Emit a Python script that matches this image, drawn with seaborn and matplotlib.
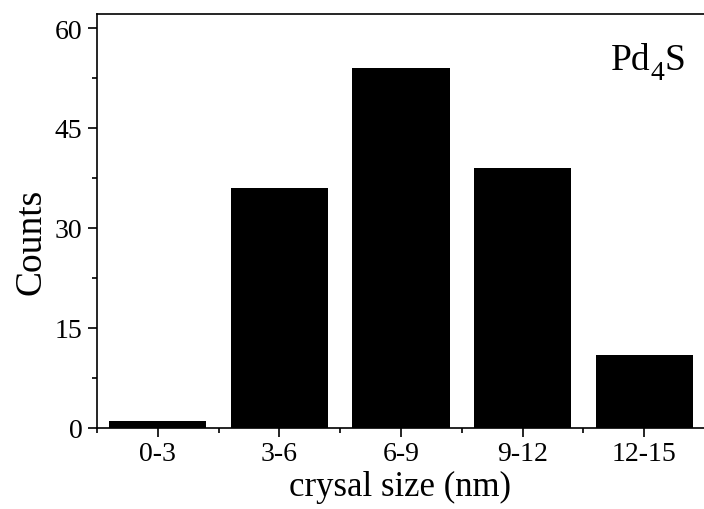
import matplotlib
matplotlib.use("Agg")
import matplotlib.pyplot as plt
import seaborn as sns
import pandas as pd
from matplotlib.ticker import MultipleLocator, FixedLocator
from matplotlib.transforms import offset_copy

categories = ["0-3", "3-6", "6-9", "9-12", "12-15"]
counts = [1, 36, 54, 39, 11]
y_ticks = [0, 15, 30, 45, 60]

sns.set_theme(style="ticks")
plt.rcParams["font.family"] = ["Liberation Serif", "DejaVu Serif"]
for k in ["text.color", "axes.labelcolor", "xtick.color", "ytick.color", "axes.edgecolor"]:
    plt.rcParams[k] = "black"

df = pd.DataFrame({"size": categories, "count": counts})

fig = plt.figure(figsize=(7.04, 5.10), dpi=100)
ax = fig.add_axes([97/704, 1 - 429/510, (705 - 97)/704, (429 - 15)/510])

sns.barplot(data=df, x="size", y="count", color="black", saturation=1,
            width=0.8, ax=ax, edgecolor="none")

ax.set_xlim(-0.5, 4.5)
ax.set_ylim(0, 62.1)
ax.set_yticks(y_ticks)
ax.yaxis.set_minor_locator(MultipleLocator(7.5))
ax.xaxis.set_minor_locator(FixedLocator([-0.5, 0.5, 1.5, 2.5, 3.5, 4.5]))

for s in ax.spines.values():
    s.set_linewidth(1.2)
    s.set_color("black")

ax.tick_params(axis="both", which="major", direction="out", length=6.5, width=1.2,
               labelsize=20, colors="black", pad=4)
ax.tick_params(axis="both", which="minor", direction="out", length=3.5, width=1.2)
ax.tick_params(axis="x", which="major", pad=3)

ax.set_xlabel("crysal size (nm)", fontsize=25)
ax.set_ylabel("Counts", fontsize=27)
ax.xaxis.set_label_coords((400 - 97) / 608, (429 - 471) / 414)
ax.yaxis.set_label_coords((48 - 97) / 608, (429 - 242) / 414)

# Pd4S label: "Pd" + lowered "4" + "S"
x0, y0 = (611 - 97) / 608, (429 - 70) / 414
t1 = ax.text(x0, y0, "Pd", transform=ax.transAxes, fontsize=27,
             ha="left", va="baseline")
fig.canvas.draw()
bb = t1.get_window_extent()
tr = ax.transAxes
x1 = ax.transAxes.inverted().transform((bb.x1, bb.y0))[0]
t2 = ax.text(x1, y0, "4", fontsize=20, ha="left", va="baseline",
             transform=offset_copy(tr, fig=fig, x=0, y=-10, units="dots"))
fig.canvas.draw()
bb2 = t2.get_window_extent()
x2 = ax.transAxes.inverted().transform((bb2.x1, bb2.y0))[0]
ax.text(x2, y0, "S", transform=ax.transAxes, fontsize=27,
        ha="left", va="baseline")

fig.savefig("out.png", dpi=100)
